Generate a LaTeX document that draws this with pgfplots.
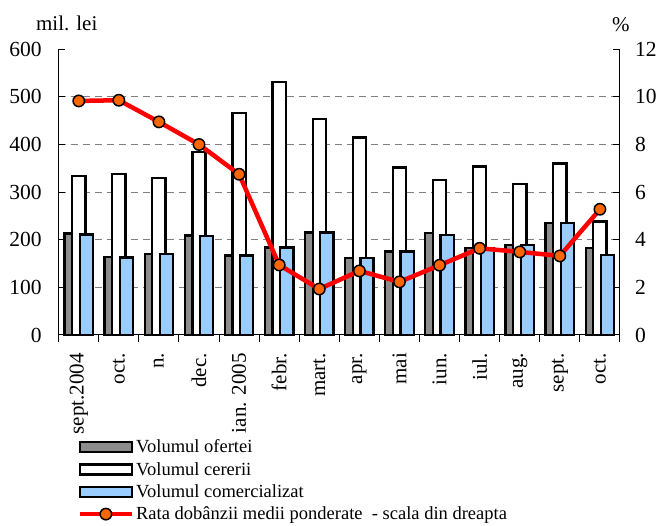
\documentclass[border=0pt]{standalone}
\usepackage{fontspec}
\setmainfont{Liberation Serif}
\usepackage{pgfplots}
\pgfplotsset{compat=1.18}
\definecolor{bargray}{HTML}{8C8C8C}
\definecolor{barblue}{HTML}{99CCFF}
\definecolor{mkorange}{HTML}{FF6600}
\pgfplotsset{
  common/.style={scale only axis, width=561.3pt, height=285.7pt, xmin=-0.5, xmax=13.5,
    axis line style={-, line width=1pt}, tick style={black, line width=1pt}, tick align=inside,
    /pgf/number format/assume math mode=true,
    tick label style={font=\fontsize{21.5}{25}\selectfont}},
  linelegend/.style={legend image code/.code={\draw[mark repeat=2,mark phase=2,##1] plot coordinates {(0pt,0pt) (26pt,0pt) (52pt,0pt)};}},
}
\begin{document}
\begin{tikzpicture}
\begin{axis}[common,
  axis x line*=bottom, axis y line*=left,
  ymin=0, ymax=600, ytick={0,100,...,600},
  major tick length=6.5pt,
  xtick={0,...,13},
  xticklabels={sept.2004,oct.,n.,dec.,ian. 2005,febr.,mart.,apr.,mai,iun.,iul.,aug.,sept.,oct.},
  major x tick style={draw=none},
  minor xtick={-0.5,0.5,...,13.5},
  minor tick length=7pt,
  minor x tick style={yshift=-7pt},
  xticklabel style={yshift=-18pt, rotate=90, anchor=east, inner sep=0pt, font=\fontsize{21}{25}\selectfont},
  yticklabel style={inner sep=0pt, xshift=-17pt, anchor=east},
  extra y ticks={100,200,300,400,500}, extra y tick labels={},
  extra y tick style={grid=major},
  major grid style={gray, dash pattern=on 7pt off 5pt, line width=1pt},
  clip=false,
]
\addplot[ybar, bar width=0.33, bar shift=-0.19, fill=bargray, draw=black, line width=2.3pt] coordinates {
(0,213) (1,164) (2,170) (3,209) (4,167) (5,184) (6,215) (7,161) (8,175) (9,214) (10,183) (11,189) (12,235) (13,183)};
\addplot[ybar, bar width=0.33, bar shift=0, fill=white, draw=black, line width=2.3pt] coordinates {
(0,334) (1,338) (2,329) (3,385) (4,466) (5,531) (6,453) (7,415) (8,352) (9,325) (10,354) (11,317) (12,360) (13,238)};
\addplot[ybar, bar width=0.33, bar shift=0.19, fill=barblue, draw=black, line width=2.3pt] coordinates {
(0,211) (1,163) (2,170) (3,208) (4,167) (5,184) (6,215) (7,161) (8,175) (9,210) (10,182) (11,189) (12,235) (13,168)};
\node[anchor=base, font=\fontsize{21}{25}\selectfont] at (axis description cs:0.0143,1.065) {mil. lei};
\path (axis description cs:-0.1046,1.1725) rectangle (axis description cs:1.0713,-0.665);
\end{axis}
\begin{axis}[common,
  axis x line=none, axis y line*=right,
  ymin=0, ymax=12, ytick={0,2,...,12},
  major tick length=7pt,
  yticklabel={\hspace*{15pt}\pgfmathprintnumber{\tick}},
  yticklabel style={inner sep=0pt, anchor=west},
  clip=false,
  legend style={at={(0.028,-0.352)}, anchor=north west, draw=none, fill=none,
    font=\fontsize{18.5}{22}\selectfont, row sep=4pt},
  legend cell align=left,
]
\addlegendimage{legend image code/.code={\draw[fill=bargray, draw=black, line width=2.5pt] (0pt,-5pt) rectangle (52pt,5pt);}}
\addlegendentry{Volumul ofertei}
\addlegendimage{legend image code/.code={\draw[fill=white, draw=black, line width=2.5pt] (0pt,-5pt) rectangle (52pt,5pt);}}
\addlegendentry{Volumul cererii}
\addlegendimage{legend image code/.code={\draw[fill=barblue, draw=black, line width=2.5pt] (0pt,-5pt) rectangle (52pt,5pt);}}
\addlegendentry{Volumul comercializat}
\addplot[red, line width=4.5pt, mark=*, mark size=5.7pt, mark options={fill=mkorange, draw=black, line width=1.5pt}, linelegend] coordinates {
(0,9.83) (1,9.86) (2,8.95) (3,8.0) (4,6.75) (5,2.94) (6,1.93) (7,2.69) (8,2.23) (9,2.93) (10,3.64) (11,3.49) (12,3.32) (13,5.28)};
\addlegendentry{Rata dobânzii medii ponderate~ - scala din dreapta}
\node[anchor=base, font=\fontsize{21}{25}\selectfont] at (axis description cs:1.0018,1.063) {\%};
\end{axis}
\end{tikzpicture}
\end{document}
